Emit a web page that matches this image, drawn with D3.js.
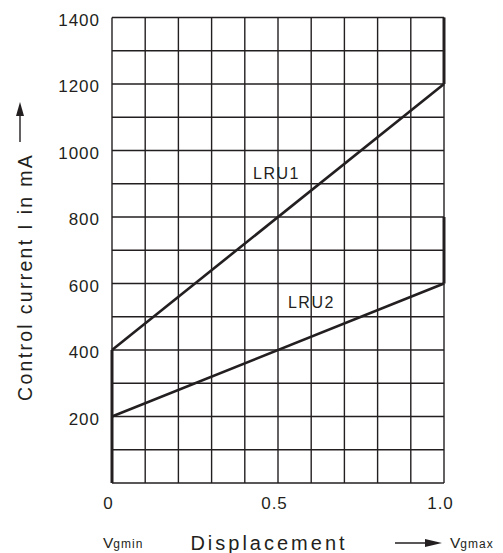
<!DOCTYPE html>
<html>
<head>
<meta charset="utf-8">
<script src="https://cdn.jsdelivr.net/npm/d3@7"></script>
<style>
  html, body { margin: 0; padding: 0; background: #fff; }
  svg { display: block; }
  text { font-family: Arial, "Liberation Sans", sans-serif; fill: #231f20; }
</style>
</head>
<body>
<svg id="chart" width="503" height="553"></svg>
<script>
// ---- data ----
const xGridValues = d3.range(0, 1.0001, 0.1);
const yGridValues = d3.range(0, 1401, 100);
const xTickValues = [0, 0.5, 1.0];
const xTickLabels = ["0", "0.5", "1.0"];
const yTickValues = [200, 400, 600, 800, 1000, 1200, 1400];
const yTickLabels = ["200", "400", "600", "800", "1000", "1200", "1400"];
const lru1 = [[0, 400], [1, 1200]];
const lru1Stop = [[1, 1200], [1, 1400]];
const lru2 = [[0, 200], [1, 600]];
const lru2Stop = [[1, 600], [1, 800]];
const minStop = [[0, 0], [0, 400]];
const seriesLabels = [{name: "LRU1", x: 0.425, y: 915}, {name: "LRU2", x: 0.53, y: 525}];
const yTitle = "Control current I in mA";
const xTitle = "Displacement";

// ---- scales ----
const svg = d3.select("#chart");
const x = d3.scaleLinear().domain([0, 1]).range([112, 444]);
const y = d3.scaleLinear().domain([0, 1400]).range([483, 17.5]);
const ink = "#231f20";

// grid
svg.append("g").selectAll("line").data(xGridValues).join("line")
  .attr("x1", d => x(d)).attr("x2", d => x(d))
  .attr("y1", y(0)).attr("y2", y(1400))
  .attr("stroke", ink).attr("stroke-width", 1.4);
svg.append("g").selectAll("line").data(yGridValues).join("line")
  .attr("x1", x(0)).attr("x2", x(1))
  .attr("y1", d => y(d)).attr("y2", d => y(d))
  .attr("stroke", ink).attr("stroke-width", 1.4);

// curves
const line = d3.line().x(d => x(d[0])).y(d => y(d[1]));
[lru1, lru2].forEach(s => svg.append("path").attr("d", line(s))
  .attr("fill", "none").attr("stroke", ink).attr("stroke-width", 2.6));
[lru1Stop, lru2Stop, minStop].forEach(s => svg.append("path").attr("d", line(s))
  .attr("fill", "none").attr("stroke", ink).attr("stroke-width", 3));

// series labels
svg.append("g").selectAll("text").data(seriesLabels).join("text")
  .attr("x", d => x(d.x)).attr("y", d => y(d.y))
  .attr("font-size", 16).attr("letter-spacing", 1.5)
  .text(d => d.name);

// y axis labels
const yAxis = d3.axisLeft(y).tickValues(yTickValues)
  .tickFormat((d, i) => yTickLabels[i]).tickSize(0).tickPadding(0);
const gy = svg.append("g").attr("transform", "translate(100,0)").call(yAxis);
gy.select(".domain").remove();
gy.selectAll("text").attr("font-size", 17).attr("letter-spacing", 1)
  .attr("font-family", "Arial, 'Liberation Sans', sans-serif").attr("fill", ink)
  .attr("dy", "0.45em");

// x axis labels
const xAxis = d3.axisBottom(x).tickValues(xTickValues).tickFormat((d, i) => xTickLabels[i]).tickSize(0).tickPadding(0);
const gx = svg.append("g").attr("transform", "translate(-4,497)").call(xAxis);
gx.select(".domain").remove();
gx.selectAll("text").attr("font-size", 17).attr("letter-spacing", 1)
  .attr("font-family", "Arial, 'Liberation Sans', sans-serif").attr("fill", ink);

// y title with arrow
svg.append("text").attr("transform", "translate(32,277) rotate(-90)")
  .attr("text-anchor", "middle").attr("font-size", 19.5).attr("letter-spacing", 2.3)
  .text(yTitle);
svg.append("line").attr("x1", 20).attr("x2", 20).attr("y1", 142).attr("y2", 112)
  .attr("stroke", ink).attr("stroke-width", 1.4);
svg.append("path").attr("d", "M20,102 L16,116 L24,116 Z").attr("fill", ink);

// x title
svg.append("text").attr("x", 269).attr("y", 550).attr("text-anchor", "middle")
  .attr("font-size", 20).attr("letter-spacing", 3).text(xTitle);

// Vgmin
const vmin = svg.append("text").attr("x", 103).attr("y", 548).attr("font-size", 15.5);
vmin.append("tspan").text("V");
vmin.append("tspan").attr("font-size", 12).attr("letter-spacing", 1).text("gmin");

// arrow to Vgmax
svg.append("line").attr("x1", 395).attr("x2", 428).attr("y1", 543).attr("y2", 543)
  .attr("stroke", ink).attr("stroke-width", 1.4);
svg.append("path").attr("d", "M442,543 L425,539 L425,547 Z").attr("fill", ink);
const vmax = svg.append("text").attr("x", 450).attr("y", 548).attr("font-size", 15.5);
vmax.append("tspan").text("V");
vmax.append("tspan").attr("font-size", 12).attr("letter-spacing", 1).text("gmax");
</script>
</body>
</html>
